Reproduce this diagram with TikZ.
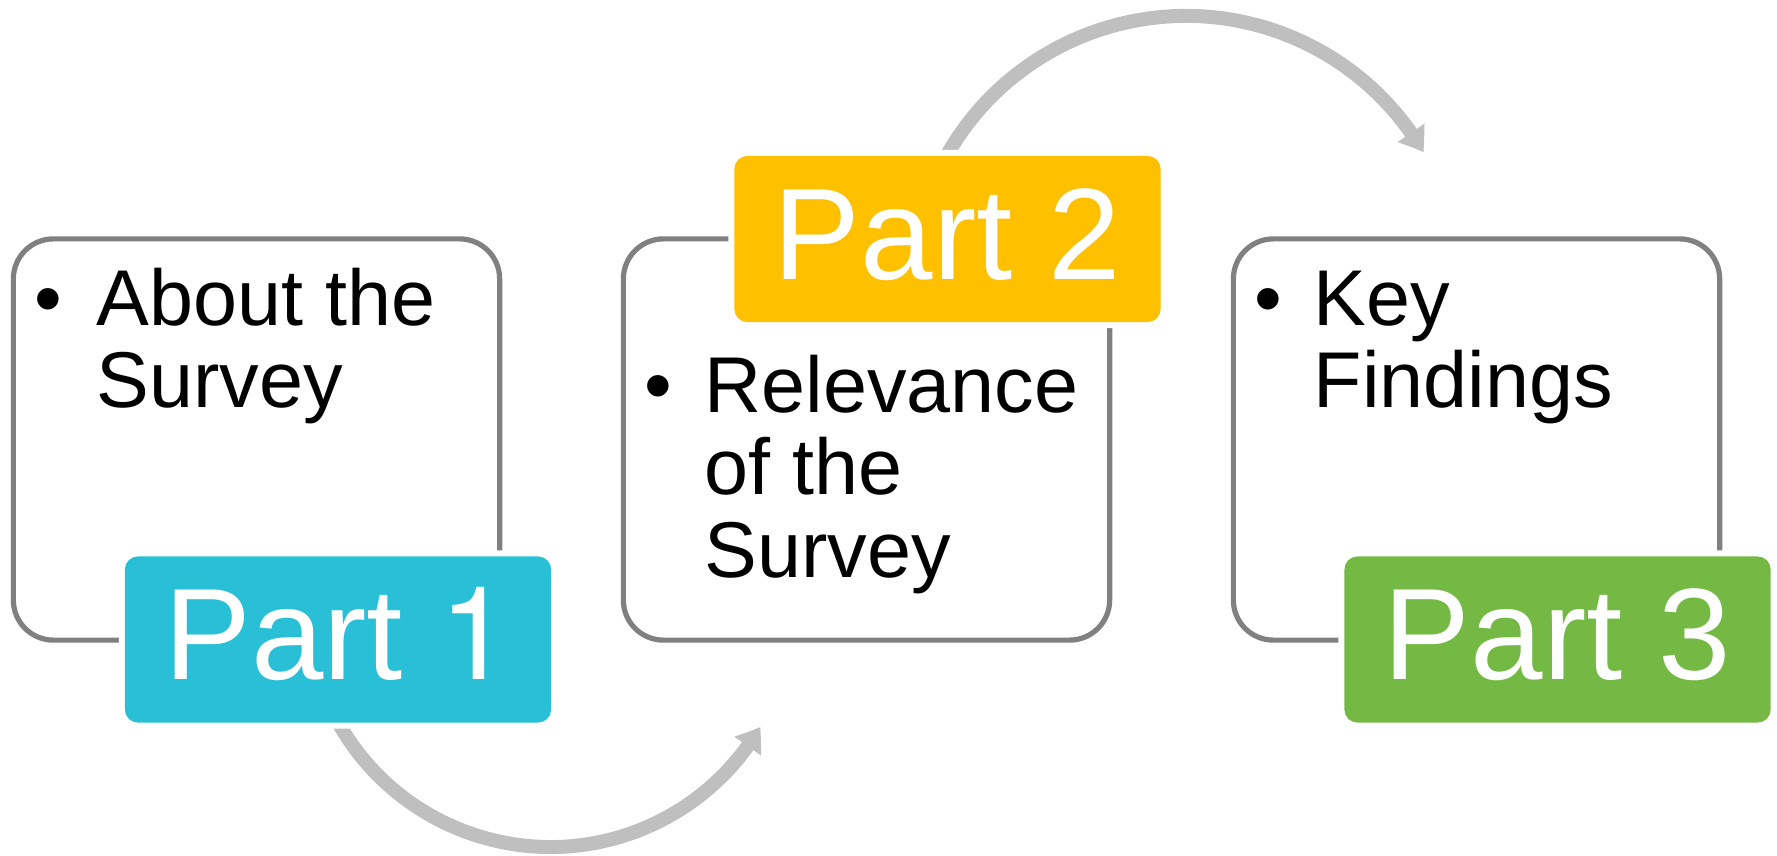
\documentclass[tikz,border=0pt]{standalone}
\usepackage{fontspec}
\setmainfont{Liberation Sans}
\newfontfamily\heros{TeX Gyre Heros}
\usetikzlibrary{arrows.meta,bending}
\definecolor{partcyan}{RGB}{41,191,214}
\definecolor{partgold}{RGB}{255,192,0}
\definecolor{partgreen}{RGB}{116,185,68}
\definecolor{bordergray}{RGB}{128,128,128}
\definecolor{arrowgray}{RGB}{191,191,191}
\newcommand\cardfont{\fontsize{22.5pt}{23.5pt}\selectfont}
\newcommand\partfont{\fontsize{37pt}{44pt}\selectfont}
\begin{document}
\begin{tikzpicture}[x=0.01cm, y=-0.01cm,
  card/.style={draw=bordergray, line width=0.052cm, rounded corners=0.4cm, fill=white,
    minimum width=4.86cm, minimum height=4.01cm, inner sep=0pt},
  part/.style={rounded corners=0.13cm, minimum width=4.26cm, minimum height=1.66cm,
    inner sep=0pt, text=white, font=\partfont, text height=0.9cm, text depth=0.1cm,
    preaction={draw=white, line width=0.12cm}},
  bulletmark/.style={anchor=base, inner sep=0pt, font=\cardfont},
  itemtext/.style={anchor=base west, inner sep=0pt, font=\cardfont},
  flow/.style={draw=arrowgray, line width=0.14cm, -{Triangle[width=0.31cm, length=0.23cm, bend]}}
]
\useasboundingbox (0,0) rectangle (1777,855);

% connectors (drawn first, partly hidden under the coloured boxes)
\coordinate (a1s) at (333.8,714.2);
\coordinate (a2s) at (941,166.1);
\draw[flow] (a1s) arc[start angle=153, end angle=30.4, radius=243.2];
\draw[flow] (a2s) arc[start angle=-153, end angle=-30.3, radius=275];

% cards
\node[card] (b1) at (256.5,439.5) {};
\node[card] (b2) at (866.5,439.5) {};
\node[card] (b3) at (1476.5,439.5) {};

% coloured labels
\node[part, fill=partcyan] (p1) at (338,639.5) {Part {\heros 1}};
\node[part, fill=partgold] (p2) at (947.5,239) {Part 2};
\node[part, fill=partgreen] (p3) at (1557.5,639.5) {Part 3};

% bullet texts
\node[bulletmark] (d1) at (48,325) {•};
\node[itemtext] (t1) at (96,325) {\parbox[t]{4.2cm}{About the\\Survey}};
\node[bulletmark] (d2) at (658,412) {•};
\node[itemtext] (t2) at (704,412) {\parbox[t]{4.2cm}{Relevance\\of the\\Survey}};
\node[bulletmark] (d3) at (1268,325) {•};
\node[itemtext] (t3) at (1313,325) {\parbox[t]{4.2cm}{Key\\Findings}};
\end{tikzpicture}
\end{document}
